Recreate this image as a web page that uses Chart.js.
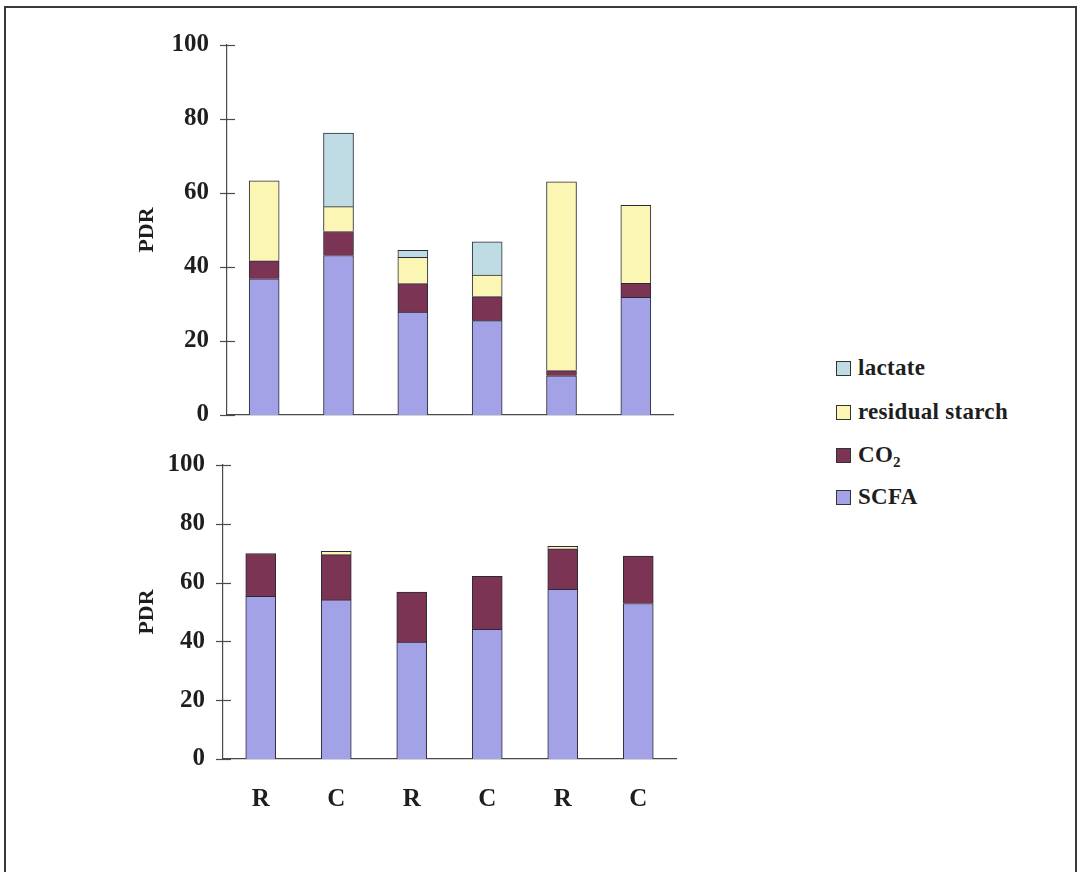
<!DOCTYPE html>
<html>
<head>
<meta charset="utf-8">
<script src="https://cdn.jsdelivr.net/npm/chart.js@4/dist/chart.umd.min.js"></script>
<style>
  html, body { margin: 0; padding: 0; background: #ffffff; }
  body { width: 1079px; height: 872px; position: relative; overflow: hidden; }
  .frame { position: absolute; left: 4px; top: 6px; width: 1069px; height: 880px;
           border-left: 2px solid #3a3a3a; border-top: 2px solid #3a3a3a; border-right: 2px solid #3a3a3a; }
  canvas { position: absolute; left: 0; }
  #topChart { top: 0; }
  #bottomChart { top: 430px; }
  .legend { position: absolute; left: 836px; top: 0; font-family: 'Liberation Serif', 'Times New Roman', serif;
            font-weight: bold; font-size: 23px; letter-spacing: 0.3px; color: #1e1e1e; }
  .legend .row { position: absolute; left: 0; white-space: nowrap; display: flex; align-items: center; height: 30px; }
  .legend .sw { width: 13px; height: 13px; border: 1px solid #333; margin-right: 7px; flex: none; }
  .legend sub { font-size: 15px; vertical-align: -5px; line-height: 0; }
</style>
</head>
<body>
<div class="frame"></div>
<canvas id="topChart" width="700" height="440"></canvas>
<canvas id="bottomChart" width="700" height="440"></canvas>
<div class="legend" id="legend"></div>
<script>
// Sample labels: R = raw, C = cooked, three substrates side by side
const categories = ['R', 'C', 'R', 'C', 'R', 'C'];

// Upper panel (PDR, %)
const topSCFA    = [36.8, 43.1, 27.8, 25.5, 10.6, 31.8];
const topCO2     = [4.9, 6.5, 7.7, 6.5, 1.4, 3.8];
const topStarch  = [21.6, 6.7, 7.1, 5.8, 51.0, 21.1];
const topLactate = [0, 19.9, 1.9, 9.0, 0, 0];

// Lower panel (PDR, %)
const bottomSCFA    = [55.3, 54.1, 39.8, 44.1, 57.7, 52.9];
const bottomCO2     = [14.6, 15.4, 17.0, 18.0, 13.8, 16.1];
const bottomStarch  = [0, 1.1, 0, 0, 0.8, 0];
const bottomLactate = [0, 0, 0, 0, 0, 0];

const yTickValues = [0, 20, 40, 60, 80, 100];

const seriesNames = { scfa: 'SCFA', co2: 'CO2', starch: 'residual starch', lactate: 'lactate' };
const colors = {
  scfa: '#a3a2e6',
  co2: '#7b3454',
  starch: '#fbf6b4',
  lactate: '#bfdbe4'
};
const edge = '#2a2a35';
const axisColor = '#4a4a4a';
const serif = "'Liberation Serif', 'Times New Roman', serif";

// Tick marks that cross the value axis on both sides
const crossTicks = {
  id: 'crossTicks',
  afterDraw(chart) {
    const y = chart.scales.y;
    const ctx = chart.ctx;
    ctx.save();
    ctx.strokeStyle = axisColor;
    ctx.lineWidth = 1.2;
    y.ticks.forEach(t => {
      const py = Math.round(y.getPixelForValue(t.value)) + 0.5;
      ctx.beginPath();
      ctx.moveTo(y.right - 7, py);
      ctx.lineTo(y.right + 8, py);
      ctx.stroke();
    });
    ctx.restore();
  }
};

function makeDatasets(scfa, co2, starch, lactate) {
  const common = { borderColor: edge, borderWidth: 1, barThickness: 30, borderSkipped: 'start' };
  return [
    Object.assign({ label: seriesNames.scfa, data: scfa, backgroundColor: colors.scfa }, common),
    Object.assign({ label: seriesNames.co2, data: co2, backgroundColor: colors.co2 }, common),
    Object.assign({ label: seriesNames.starch, data: starch, backgroundColor: colors.starch }, common),
    Object.assign({ label: seriesNames.lactate, data: lactate, backgroundColor: colors.lactate }, common)
  ];
}

function makeChart(id, datasets, opts) {
  return new Chart(document.getElementById(id), {
    type: 'bar',
    data: { labels: categories, datasets },
    options: {
      responsive: false,
      animation: false,
      devicePixelRatio: 1,
      layout: { padding: opts.padding },
      plugins: { legend: { display: false }, tooltip: { enabled: false } },
      scales: {
        x: {
          stacked: true,
          grid: { display: false },
          border: { display: true, color: axisColor, width: 1.2 },
          ticks: {
            display: opts.showLabels,
            color: '#1e1e1e',
            padding: 18,
            font: { family: serif, size: 25, weight: 'bold' }
          },
          afterFit(scale) { scale.height = opts.xHeight; }
        },
        y: {
          stacked: true,
          min: 0,
          max: 100,
          afterBuildTicks(scale) { scale.ticks = yTickValues.map(v => ({ value: v })); },
          grid: { display: false },
          border: { display: true, color: axisColor, width: 1.2 },
          ticks: {
            color: '#1e1e1e',
            padding: 10,
            font: { family: serif, size: 25, weight: 'bold' }
          },
          title: {
            display: true,
            text: 'PDR',
            color: '#1e1e1e',
            padding: 0,
            font: { family: serif, size: 22, weight: 'bold' }
          },
          afterFit(scale) { scale.width = opts.yWidth; }
        }
      }
    },
    plugins: [crossTicks]
  });
}

makeChart('topChart', makeDatasets(topSCFA, topCO2, topStarch, topLactate), {
  padding: { left: 134, right: 27, top: 45, bottom: 0 },
  yWidth: 93,
  xHeight: 22,
  showLabels: false
});

makeChart('bottomChart', makeDatasets(bottomSCFA, bottomCO2, bottomStarch, bottomLactate), {
  padding: { left: 134, right: 24, top: 35, bottom: 0 },
  yWidth: 89,
  xHeight: 111,
  showLabels: true
});

// Shared legend, listed top-down in reverse stacking order
const legendRows = [
  { key: 'lactate', html: 'lactate', y: 368 },
  { key: 'starch', html: 'residual starch', y: 412 },
  { key: 'co2', html: 'CO<sub>2</sub>', y: 455 },
  { key: 'scfa', html: 'SCFA', y: 497 }
];
const legendEl = document.getElementById('legend');
legendRows.forEach(r => {
  const row = document.createElement('div');
  row.className = 'row';
  row.style.top = (r.y - 15) + 'px';
  row.innerHTML = '<span class="sw" style="background:' + colors[r.key] + '"></span><span>' + r.html + '</span>';
  legendEl.appendChild(row);
});
</script>
</body>
</html>
